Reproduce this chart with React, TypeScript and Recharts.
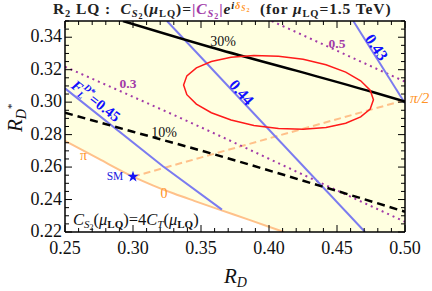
import React from 'react';
import { ComposedChart, Line, Area, Scatter, XAxis, YAxis, Symbols } from 'recharts';

const SERIF = 'Liberation Serif, Times New Roman, serif';
const BLUE_LINE = '#7b7bf0';
const BLUE_TXT = '#1010ff';
const PURPLE = '#a23aa8';
const ORANGE_LINE = '#ffc18a';
const ORANGE_TXT = '#ff9326';

// axis ticks (minor + major) and labelled values
const xTicks = [0.25, 0.26, 0.27, 0.28, 0.29, 0.3, 0.31, 0.32, 0.33, 0.34, 0.35, 0.36, 0.37, 0.38, 0.39, 0.4, 0.41, 0.42, 0.43, 0.44, 0.45, 0.46, 0.47, 0.48, 0.49, 0.5];
const yTicks = [0.22, 0.225, 0.23, 0.235, 0.24, 0.245, 0.25, 0.255, 0.26, 0.265, 0.27, 0.275, 0.28, 0.285, 0.29, 0.295, 0.3, 0.305, 0.31, 0.315, 0.32, 0.325, 0.33, 0.335, 0.34, 0.345, 0.35];
const xMajor = [0.25, 0.3, 0.35, 0.4, 0.45, 0.5];
const yMajor = [0.22, 0.24, 0.26, 0.28, 0.3, 0.32, 0.34];

// |C_S2| curves for delta = pi (left of SM) and 0 (right of SM)
const orangeSolid = [
  { x: 0.25, y: 0.2762 }, { x: 0.275, y: 0.265 }, { x: 0.3, y: 0.2541 },
  { x: 0.315, y: 0.2486 }, { x: 0.33, y: 0.2437 }, { x: 0.345, y: 0.2392 },
  { x: 0.3625, y: 0.2341 }, { x: 0.385, y: 0.2276 }, { x: 0.411, y: 0.22 },
];
// delta = pi/2
const orangeDashed = [{ x: 0.3, y: 0.2541 }, { x: 0.4, y: 0.2777 }, { x: 0.5, y: 0.3013 }];

// branching ratio contours
const black30 = [{ x: 0.2926, y: 0.35 }, { x: 0.3566, y: 0.334 }, { x: 0.42, y: 0.3194 }, { x: 0.4755, y: 0.3064 }, { x: 0.5, y: 0.3003 }];
const black10 = [{ x: 0.25, y: 0.2935 }, { x: 0.3, y: 0.2818 }, { x: 0.3566, y: 0.2686 }, { x: 0.4397, y: 0.2479 }, { x: 0.5, y: 0.2325 }];

// P_tau contours
const purple03 = [{ x: 0.25, y: 0.3218 }, { x: 0.35, y: 0.2845 }, { x: 0.44, y: 0.2495 }, { x: 0.5, y: 0.2263 }];
const purple05 = [{ x: 0.402, y: 0.35 }, { x: 0.5, y: 0.3126 }];

// F_L^D* contours
const blue045 = [{ x: 0.25, y: 0.3085 }, { x: 0.322, y: 0.2605 }, { x: 0.3654, y: 0.2338 }];
const blue044 = [{ x: 0.325, y: 0.35 }, { x: 0.4706, y: 0.22 }];
const blue043 = [{ x: 0.462, y: 0.35 }, { x: 0.5, y: 0.2993 }];

// 1 sigma experimental ellipse
const ellipse = [
  { x: 0.4768, y: 0.3015 }, { x: 0.4744, y: 0.3074 }, { x: 0.4674, y: 0.3132 }, { x: 0.4564, y: 0.3185 },
  { x: 0.4419, y: 0.323 }, { x: 0.4251, y: 0.3264 }, { x: 0.407, y: 0.3283 }, { x: 0.3889, y: 0.3287 },
  { x: 0.3721, y: 0.3276 }, { x: 0.3576, y: 0.325 }, { x: 0.3466, y: 0.3211 }, { x: 0.3396, y: 0.3162 },
  { x: 0.3372, y: 0.3106 }, { x: 0.3396, y: 0.3046 }, { x: 0.3466, y: 0.2988 }, { x: 0.3576, y: 0.2935 },
  { x: 0.3721, y: 0.289 }, { x: 0.3889, y: 0.2856 }, { x: 0.407, y: 0.2837 }, { x: 0.4251, y: 0.2833 },
  { x: 0.4419, y: 0.2844 }, { x: 0.4564, y: 0.287 }, { x: 0.4674, y: 0.2909 }, { x: 0.4744, y: 0.2958 },
];

const smPoint = [{ x: 0.3, y: 0.2541 }];

// allowed region: above the |C_S2| curve
const allowed = orangeSolid
  .map((p) => ({ x: p.x, band: [p.y, 0.35] }))
  .concat([{ x: 0.5, band: [0.22, 0.35] }]);

const isMajor = (v: number, list: number[]) => list.some((m) => Math.abs(m - v) < 1e-6);

const BottomTick = (props: any) => {
  const { x, y, payload } = props;
  const major = isMajor(payload.value, xMajor);
  return (
    <g>
      <line x1={x} y1={y} x2={x} y2={y - (major ? 7 : 4)} stroke="#000" strokeWidth={1} />
      {major && (
        <text x={x} y={y + 22} textAnchor="middle" style={{ fontFamily: SERIF }} fontSize={18} fill="#111">
          {payload.value.toFixed(2)}
        </text>
      )}
    </g>
  );
};

const TopTick = (props: any) => {
  const { x, y, payload } = props;
  const major = isMajor(payload.value, xMajor);
  return <line x1={x} y1={y} x2={x} y2={y + (major ? 7 : 4)} stroke="#000" strokeWidth={1} />;
};

const LeftTick = (props: any) => {
  const { x, y, payload } = props;
  const major = isMajor(payload.value, yMajor);
  return (
    <g>
      <line x1={x} y1={y} x2={x + (major ? 7 : 4)} y2={y} stroke="#000" strokeWidth={1} />
      {major && (
        <text x={x - 3} y={y + 5} textAnchor="end" style={{ fontFamily: SERIF }} fontSize={18} fill="#111">
          {payload.value.toFixed(2)}
        </text>
      )}
    </g>
  );
};

const RightTick = (props: any) => {
  const { x, y, payload } = props;
  const major = isMajor(payload.value, yMajor);
  return <line x1={x} y1={y} x2={x - (major ? 7 : 4)} y2={y} stroke="#000" strokeWidth={1} />;
};

const Star = (props: any) => (
  <Symbols cx={props.cx} cy={props.cy} type="star" size={40} fill="#1414f5" stroke="none" />
);

const Overlay = () => (
  <svg width={432} height={291} style={{ position: 'absolute', left: 0, top: 0, pointerEvents: 'none', fontFamily: SERIF }}>
    <text x={53} y={14} fontWeight="bold" fontSize={15.5} letterSpacing={0.9} style={{ whiteSpace: 'pre' }} fill="#222">
      <tspan>R</tspan>
      <tspan fontSize={10.5} dy={3}>2</tspan>
      <tspan dy={-3}> LQ :  </tspan>
      <tspan fontStyle="italic">C</tspan>
      <tspan fontStyle="italic" fontSize={10.5} dy={3}>S</tspan>
      <tspan fontSize={8} dy={1.5}>2</tspan>
      <tspan dy={-4.5}>(</tspan>
      <tspan fontStyle="italic">μ</tspan>
      <tspan fontSize={10.5} dy={3}>LQ</tspan>
      <tspan dy={-3}>)=</tspan>
      <tspan fill={PURPLE}>|</tspan>
      <tspan fill={PURPLE} fontStyle="italic">C</tspan>
      <tspan fill={PURPLE} fontStyle="italic" fontSize={10.5} dy={3}>S</tspan>
      <tspan fill={PURPLE} fontSize={8} dy={1.5}>2</tspan>
      <tspan fill={PURPLE} dy={-4.5}>|</tspan>
      <tspan fontStyle="italic">e</tspan>
      <tspan fontStyle="italic" fontSize={10.5} dy={-5}>i</tspan>
      <tspan fill={ORANGE_TXT} fontStyle="italic" fontSize={10.5}>δ</tspan>
      <tspan fill={ORANGE_TXT} fontStyle="italic" fontSize={7.5} dy={2}>S</tspan>
      <tspan fill={ORANGE_TXT} fontSize={6} dy={1}>2</tspan>
      <tspan dy={2}>  (for </tspan>
      <tspan fontStyle="italic">μ</tspan>
      <tspan fontSize={10.5} dy={3}>LQ</tspan>
      <tspan dy={-3}>=1.5 TeV)</tspan>
    </text>

    <text x={223} y={46} textAnchor="middle" fontSize={14} fill="#111">30%</text>
    <text x={164} y={137} textAnchor="middle" fontSize={14} fill="#111">10%</text>
    <text x={128} y={88} textAnchor="middle" fontSize={13.5} fontWeight="bold" fill={PURPLE}>0.3</text>
    <text x={337} y={48} textAnchor="middle" fontSize={13.5} fontWeight="bold" fill={PURPLE}>0.5</text>

    <text transform="translate(377,47) rotate(56)" textAnchor="middle" dy={6} fontSize={16} fontWeight="bold" fill={BLUE_TXT}>0.43</text>
    <text transform="translate(242,92) rotate(48)" textAnchor="middle" dy={6} fontSize={16} fontWeight="bold" fill={BLUE_TXT}>0.44</text>
    <text transform="translate(96,101) rotate(38)" textAnchor="middle" dy={5} fontSize={15} fontWeight="bold" fill={BLUE_TXT}>
      <tspan fontStyle="italic">F</tspan>
      <tspan fontStyle="italic" fontSize={9.5} dy={3}>L</tspan>
      <tspan fontStyle="italic" fontSize={9.5} dx={-5} dy={-10}>D*</tspan>
      <tspan dy={7}>=0.45</tspan>
    </text>

    <text x={83.5} y={160} textAnchor="middle" fontSize={14} fill={ORANGE_TXT}>π</text>
    <text x={164} y={198} textAnchor="middle" fontSize={14} fill={ORANGE_TXT}>0</text>
    <text x={410} y={103} fontSize={15} fontStyle="italic" fill={ORANGE_TXT}>π/2</text>
    <text x={115} y={180} textAnchor="middle" fontSize={11.5} fill="#2020e0">SM</text>

    <text x={73} y={225} fontSize={16.5} fill="#111">
      <tspan fontStyle="italic">C</tspan>
      <tspan fontStyle="italic" fontSize={11} dy={3}>S</tspan>
      <tspan fontSize={8} dy={1.5}>2</tspan>
      <tspan dy={-4.5}>(</tspan>
      <tspan fontStyle="italic">μ</tspan>
      <tspan fontSize={11} fontWeight="bold" dy={3}>LQ</tspan>
      <tspan dy={-3}>)=4</tspan>
      <tspan fontStyle="italic">C</tspan>
      <tspan fontStyle="italic" fontSize={11} dy={3}>T</tspan>
      <tspan dy={-3}>(</tspan>
      <tspan fontStyle="italic">μ</tspan>
      <tspan fontSize={11} fontWeight="bold" dy={3}>LQ</tspan>
      <tspan dy={-3}>)</tspan>
    </text>

    <text x={224} y={283} fontSize={21} fill="#111">
      <tspan fontStyle="italic">R</tspan>
      <tspan fontStyle="italic" fontSize={14} dy={4}>D</tspan>
    </text>
    <text transform="translate(22,132) rotate(-90)" fontSize={21} fill="#111">
      <tspan fontStyle="italic">R</tspan>
      <tspan fontStyle="italic" fontSize={14} dy={4}>D</tspan>
      <tspan fontSize={11} dy={-11}>*</tspan>
    </text>
  </svg>
);

export default function App() {
  return (
    <div style={{ position: 'absolute', left: 0, top: 0, width: 432, height: 291, background: '#fff' }}>
      <ComposedChart width={432} height={291} margin={{ top: 20, right: 26, bottom: 0, left: 0 }}>
        <Area data={allowed} dataKey="band" type="monotone" fill="#ffffe0" fillOpacity={1} stroke="none" isAnimationActive={false} />
        <Line data={orangeSolid} dataKey="y" type="monotone" stroke={ORANGE_LINE} strokeWidth={2} dot={false} isAnimationActive={false} />
        <Line data={orangeDashed} dataKey="y" type="linear" stroke={ORANGE_LINE} strokeWidth={2} strokeDasharray="7 4" dot={false} isAnimationActive={false} />
        <Line data={purple03} dataKey="y" type="monotone" stroke={PURPLE} strokeWidth={2} strokeDasharray="2 4" dot={false} isAnimationActive={false} />
        <Line data={purple05} dataKey="y" type="linear" stroke={PURPLE} strokeWidth={2} strokeDasharray="2 4" dot={false} isAnimationActive={false} />
        <Line data={blue045} dataKey="y" type="linear" stroke={BLUE_LINE} strokeWidth={2} dot={false} isAnimationActive={false} />
        <Line data={blue044} dataKey="y" type="linear" stroke={BLUE_LINE} strokeWidth={2} dot={false} isAnimationActive={false} />
        <Line data={blue043} dataKey="y" type="linear" stroke={BLUE_LINE} strokeWidth={2} dot={false} isAnimationActive={false} />
        <Line data={black10} dataKey="y" type="monotone" stroke="#000" strokeWidth={2.5} strokeDasharray="8 5" dot={false} isAnimationActive={false} />
        <Line data={black30} dataKey="y" type="monotone" stroke="#000" strokeWidth={2.5} dot={false} isAnimationActive={false} />
        <Line data={ellipse} dataKey="y" type="linearClosed" stroke="#ff1a1a" strokeWidth={1.5} dot={false} isAnimationActive={false} />
        <Scatter data={smPoint} dataKey="y" shape={Star} isAnimationActive={false} />

        <XAxis xAxisId={0} dataKey="x" type="number" domain={[0.25, 0.5]} ticks={xTicks} interval={0} height={59}
          allowDataOverflow tickSize={0} tickMargin={0} tick={<BottomTick />} axisLine={{ stroke: '#000', strokeWidth: 1.5 }} />
        <XAxis xAxisId="top" orientation="top" dataKey="x" type="number" domain={[0.25, 0.5]} ticks={xTicks} interval={0} height={1}
          allowDataOverflow tickSize={0} tickMargin={0} tick={<TopTick />} axisLine={{ stroke: '#000', strokeWidth: 1.5 }} />
        <YAxis yAxisId={0} type="number" domain={[0.22, 0.35]} ticks={yTicks} interval={0} width={65}
          allowDataOverflow tickSize={0} tickMargin={0} tick={<LeftTick />} axisLine={{ stroke: '#000', strokeWidth: 1.5 }} />
        <YAxis yAxisId="right" orientation="right" type="number" domain={[0.22, 0.35]} ticks={yTicks} interval={0} width={1}
          allowDataOverflow tickSize={0} tickMargin={0} tick={<RightTick />} axisLine={{ stroke: '#000', strokeWidth: 1.5 }} />
      </ComposedChart>
      <Overlay />
    </div>
  );
}
